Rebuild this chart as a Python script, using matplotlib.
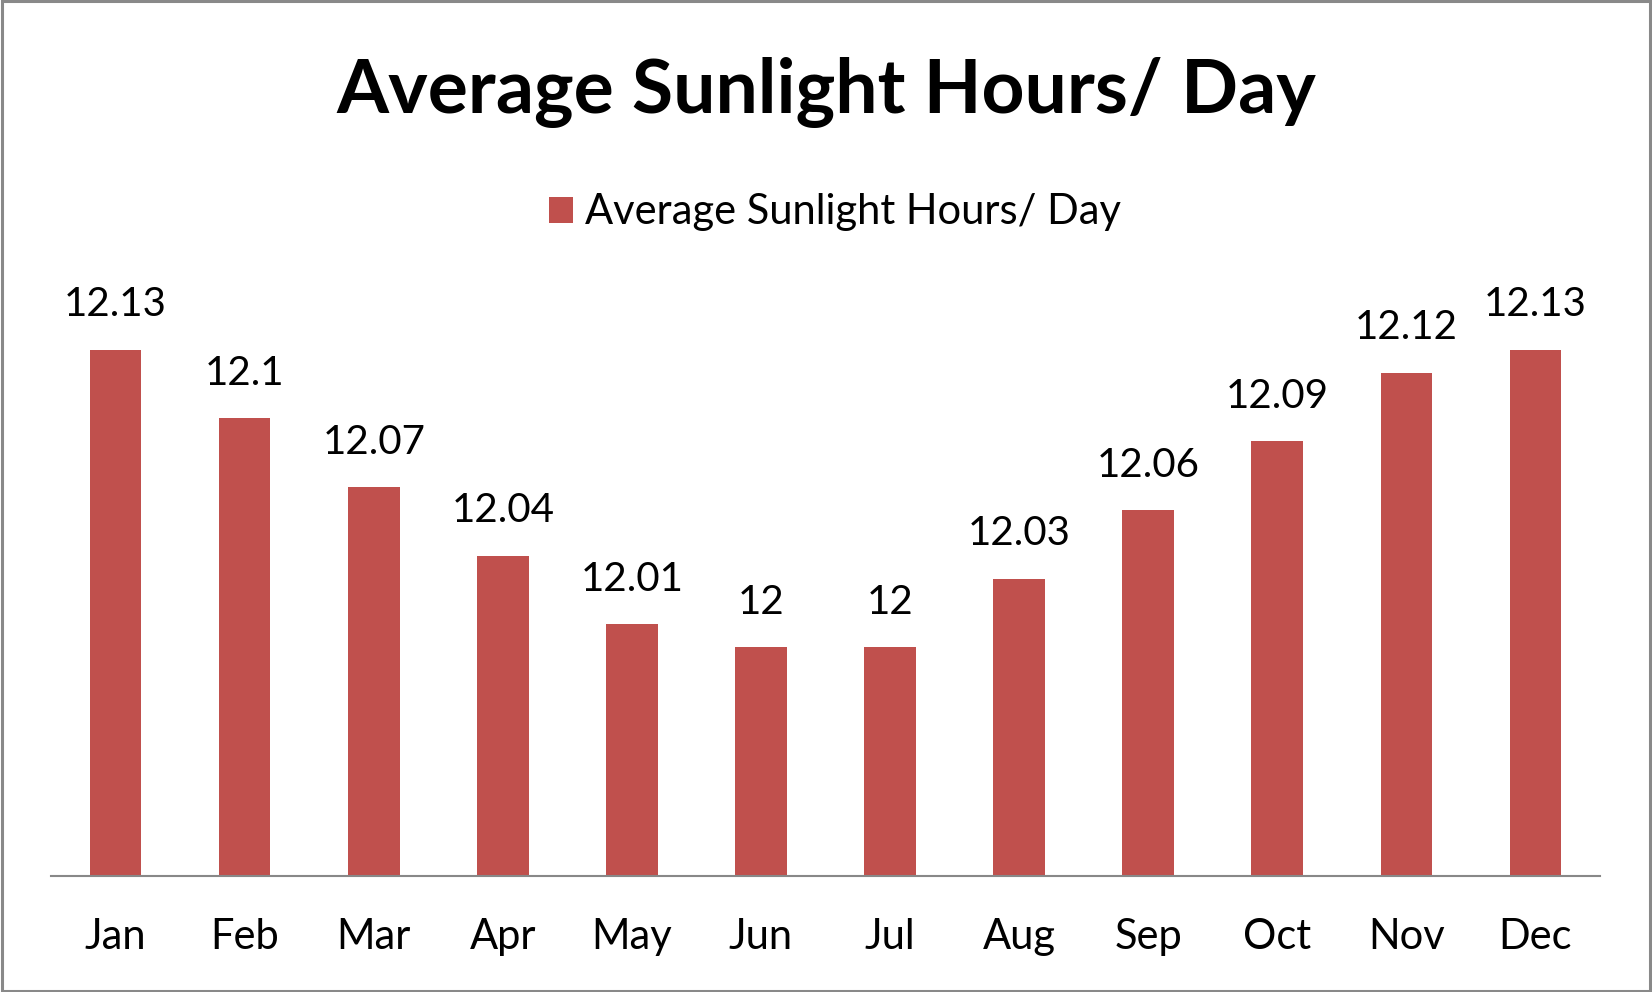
import matplotlib.pyplot as plt
from matplotlib.patches import Rectangle

plt.rcParams['font.family'] = ['Lato', 'DejaVu Sans']

# data
months = ['Jan', 'Feb', 'Mar', 'Apr', 'May', 'Jun',
          'Jul', 'Aug', 'Sep', 'Oct', 'Nov', 'Dec']
hours = [12.13, 12.1, 12.07, 12.04, 12.01, 12, 12, 12.03, 12.06, 12.09, 12.12, 12.13]
labels = ['12.13', '12.1', '12.07', '12.04', '12.01', '12', '12',
          '12.03', '12.06', '12.09', '12.12', '12.13']
series_name = 'Average Sunlight Hours/ Day'

fig = plt.figure(figsize=(16.52, 9.92), dpi=100)
ax = fig.add_axes([0.0309, 0.1169, 0.9376, 0.5766])

base = 11.9
x = range(len(months))
bars = ax.bar(x, [h - base for h in hours], bottom=base, width=0.40,
              color='#C0504D', label=series_name)

for i, (h, t) in enumerate(zip(hours, labels)):
    ax.annotate(t, (i, h), xytext=(0, 24), textcoords='offset points',
                ha='center', va='baseline', fontsize=29)

ax.set_ylim(base, 12.15)
ax.set_xlim(-0.5, len(months) - 0.5)
ax.set_xticks(list(x))
ax.set_xticklabels(months, fontsize=30)
ax.tick_params(axis='x', length=0, pad=30)
ax.set_yticks([])
for s in ['top', 'right', 'left']:
    ax.spines[s].set_visible(False)
ax.spines['bottom'].set_color('#888888')
ax.spines['bottom'].set_linewidth(1.5)

fig.text(0.5, 0.907, series_name, ha='center', va='center',
         fontsize=54, fontweight='bold')

fig.legend(handles=[bars], loc='center', bbox_to_anchor=(0.5055, 0.786),
           frameon=False, fontsize=30, handlelength=0.58, handleheight=0.58,
           handletextpad=0.3)

# outer frame
fig.patches.append(Rectangle((0.001, 0.0015), 0.998, 0.997, transform=fig.transFigure,
                             fill=False, edgecolor='#898989', linewidth=2.2))

fig.savefig('out.png', dpi=100)
